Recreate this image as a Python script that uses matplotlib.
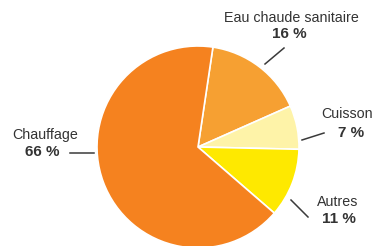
import matplotlib.pyplot as plt

# --- data --------------------------------------------------------------------
categories = ["Eau chaude sanitaire", "Cuisson", "Autres", "Chauffage"]
shares = [16, 7, 11, 66]
colors = ["#F6A032", "#FEF3A8", "#FEE900", "#F5821F"]

# --- layout (pixel coords, y up) ---------------------------------------------
W, H = 374, 246
CENTER = (198, 99)
RADIUS = 101
NAME_SIZE = 10.3
PCT_SIZE = 11
TEXT_COLOR = "#333333"
# name position, alignment, percentage position, leader line start/end
label_layout = {
    "Eau chaude sanitaire": dict(name=(291, 228), pct=(289, 212), ha="center",
                                 line=((265, 182), (284, 198))),
    "Cuisson": dict(name=(373, 132), pct=(364, 113), ha="right",
                    line=((302, 106), (324, 113))),
    "Autres": dict(name=(338, 44), pct=(339, 27), ha="center",
                   line=((291, 46), (308, 29))),
    "Chauffage": dict(name=(12, 111), pct=(25, 94), ha="left",
                      line=((70, 93), (94, 93))),
}

plt.rcParams["font.family"] = ["Liberation Sans", "DejaVu Sans"]

fig = plt.figure(figsize=(W / 100, H / 100), dpi=100)
ax = fig.add_axes([0, 0, 1, 1])

ax.pie(shares, colors=colors, startangle=81.5, counterclock=False,
       center=CENTER, radius=RADIUS,
       wedgeprops=dict(edgecolor="white", linewidth=1.2))
ax.set_xlim(0, W)
ax.set_ylim(0, H)
ax.set_aspect("equal")
ax.axis("off")

for name, val in zip(categories, shares):
    lay = label_layout[name]
    ax.text(*lay["name"], name, ha=lay["ha"], va="center",
            fontsize=NAME_SIZE, color=TEXT_COLOR)
    ax.text(*lay["pct"], f"{val} %", ha=lay["ha"], va="center",
            fontsize=PCT_SIZE, fontweight="bold", color=TEXT_COLOR)
    (x0, y0), (x1, y1) = lay["line"]
    ax.plot([x0, x1], [y0, y1], color="#3a3a3a", lw=1.1)

fig.savefig("out.png", dpi=100)
